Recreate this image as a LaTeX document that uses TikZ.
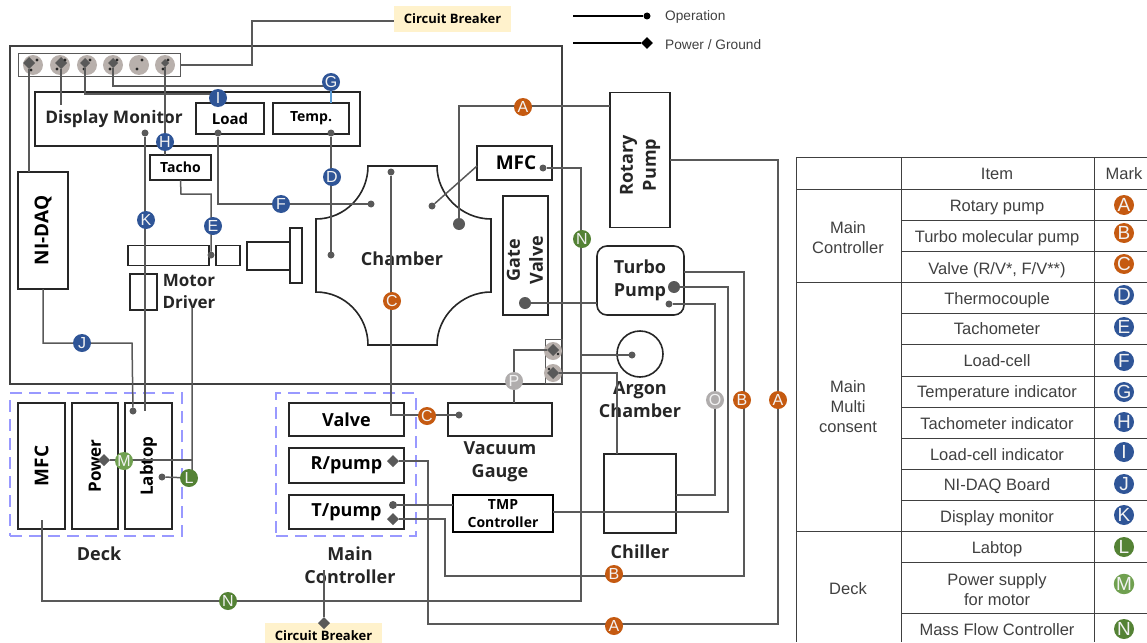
\documentclass[tikz,border=0pt]{standalone}
\usepackage{fontspec}
\setmainfont{Open Sans}
\newfontfamily\tablefont{Liberation Sans}
\usetikzlibrary{shapes.geometric, positioning}
\definecolor{Wire}{RGB}{89, 89, 89}
\definecolor{Frame}{RGB}{64, 64, 64}
\definecolor{Cream}{RGB}{255, 242, 204}
\definecolor{Naranja}{RGB}{197, 90, 17}
\definecolor{Azul}{RGB}{47, 85, 151}
\definecolor{Verde}{RGB}{84, 130, 53}
\definecolor{VerdeClaro}{RGB}{112, 160, 80}
\definecolor{Gris}{RGB}{176, 173, 173}
\definecolor{Socket}{RGB}{184, 176, 172}
\definecolor{Lila}{RGB}{153, 153, 255}
\definecolor{Celeste}{RGB}{91, 155, 213}
\definecolor{Texto}{RGB}{64, 64, 64}

\begin{document}
\begin{tikzpicture}[
        x=1pt, y=-1pt,
        box/.style={rectangle, draw=black!85, line width=1.6pt, inner sep=0pt, outer sep=0pt, align=center, font=\fontsize{18}{23}\selectfont\bfseries},
        lbl/.style={inner sep=0pt, align=center, font=\fontsize{18}{23}\selectfont\bfseries, text=black!85},
        dashbox/.style={rectangle, draw=Lila, line width=1.5pt, dash pattern=on 12pt off 7pt, inner sep=0pt},
        breaker/.style={rectangle, fill=Cream, inner sep=0pt, font=\fontsize{13}{15}\selectfont\bfseries},
        wire/.style={draw=Wire, line width=1.5pt},
        opdot/.style={circle, fill=Wire, inner sep=0pt, outer sep=0pt, minimum size=7pt},
        bigdot/.style={circle, fill=Wire, inner sep=0pt, outer sep=0pt, minimum size=12pt},
        pwrdia/.style={diamond, fill=Wire, inner sep=0pt, outer sep=0pt, minimum size=12pt},
        socket/.style={circle, fill=Socket, inner sep=0pt, minimum size=20pt},
        badge/.style={circle, inner sep=0pt, minimum size=18pt, text=white!90!gray, font=\tablefont\fontsize{16}{16}\selectfont},
        keymark/.style={badge, minimum size=20pt, font=\tablefont\fontsize{19}{19}\selectfont},
        tabmulti/.style={inner sep=0pt, align=center, text=Texto, font=\tablefont\fontsize{16.5}{20}\selectfont},
        tabtext/.style={tabmulti, text height=14pt, text depth=3pt},
        legtext/.style={inner sep=0pt, anchor=west, text=Texto, font=\tablefont\fontsize{13.7}{14}\selectfont},
        tabline/.style={draw=black!75, line width=1pt}
    ]
        \useasboundingbox (0,0) rectangle (1147,642);

        % Armario principal, regletas y cuadros de mando
        \node[box, draw=Frame, line width=2pt, minimum width=552pt, minimum height=338pt] (cabinet) at (286,215) {};
        \node[rectangle, draw=Wire, line width=1pt, minimum width=162pt, minimum height=22pt, inner sep=0pt] (strip) at (99,65) {};
        \node[socket] (sockA) at (33,65) {};
        \node[socket] (sockB) at (60,65) {};
        \node[socket] (sockC) at (87,65) {};
        \node[socket] (sockD) at (113,65) {};
        \node[socket] (sockE) at (139,65) {};
        \node[socket] (sockF) at (165,65) {};
        \node[rectangle, draw=Wire, line width=1pt, minimum width=17pt, minimum height=44pt, inner sep=0pt] (stripb) at (553.5,361) {};
        \node[socket, minimum size=18pt] (sockG) at (553,351) {};
        \node[socket, minimum size=18pt] (sockH) at (553,373) {};

        \node[box, minimum width=325pt, minimum height=54pt] (monitor) at (197.5,119) {};
        \node[lbl, font=\fontsize{17.3}{20}\selectfont\bfseries] (monitortext) at (114,119) {Display Monitor};
        \node[box, minimum width=68pt, minimum height=31pt, font=\fontsize{15}{17}\selectfont\bfseries] (load) at (230,118.5) {Load};
        \node[box, minimum width=76pt, minimum height=31pt, font=\fontsize{14}{17}\selectfont\bfseries] (temp) at (311,118.5) {Temp.};
        \node[box, minimum width=61pt, minimum height=25pt, font=\fontsize{14}{17}\selectfont\bfseries] (tacho) at (180.5,167.5) {Tacho};
        \node[box, minimum width=50pt, minimum height=117pt, font=\fontsize{19}{22}\selectfont\bfseries] (nidaq) at (43,230.5) {\rotatebox{90}{NI-DAQ}};

        % Motor y eje
        \node[box, minimum width=81pt, minimum height=20pt] (motorbar) at (168.5,255.5) {};
        \node[box, minimum width=24pt, minimum height=20pt] (coupler) at (228,255.5) {};
        \node[box, minimum width=43pt, minimum height=28pt] (shaft) at (268.5,256) {};
        \node[box, minimum width=12pt, minimum height=55pt] (flange) at (296,255.5) {};
        \node[box, minimum width=27pt, minimum height=36pt] (driver) at (143.5,292) {};
        \node[lbl, font=\fontsize{17}{22}\selectfont\bfseries] (drivertext) at (189,292) {Motor\\Driver};

        % Camara de vacio
        \draw[black!85, line width=1.6pt] (368,166) -- (437,166) .. controls (437,195) and (462,219) .. (491,219) -- (491,292) .. controls (462,292) and (437,316) .. (437,345) -- (368,345) .. controls (368,316) and (345,292) .. (316,292) -- (316,219) .. controls (345,219) and (368,195) .. (368,166) -- cycle;
        \node[lbl] (chamber) at (402,259) {Chamber};
        \node[box, minimum width=75pt, minimum height=34pt, font=\fontsize{19}{22}\selectfont\bfseries] (mfc) at (514.5,163) {\hspace*{3pt}MFC};
        \node[box, minimum width=45pt, minimum height=119pt] (gate) at (525.5,255.5) {};
        \node[lbl, rotate=90] (gatetext) at (525,260) {Gate\\Valve};

        % Bombas y camara de argon
        \node[box, minimum width=60pt, minimum height=135pt] (rotary) at (640,160) {};
        \node[lbl, rotate=90] (rotarytext) at (640,165) {Rotary\\Pump};
        \node[box, minimum width=87pt, minimum height=69pt, rounded corners=10pt] (turbo) at (640.5,280.5) {};
        \node[lbl] (turbotext) at (640,280) {Turbo\\Pump};
        \node[circle, draw=black!85, line width=1.6pt, minimum size=46pt, inner sep=0pt] (argon) at (640,354) {};
        \node[lbl] (argontext) at (640,399.5) {Argon\\Chamber};
        \node[box, minimum width=72pt, minimum height=79pt] (chiller) at (640,493.5) {};
        \node[lbl] (chillertext) at (640,552) {Chiller};

        % Deck y controlador principal
        \node[dashbox, minimum width=172pt, minimum height=143pt] (deckzone) at (96,464.5) {};
        \node[box, minimum width=47pt, minimum height=126pt, font=\fontsize{19}{22}\selectfont\bfseries] (deckmfc) at (41.5,466) {\rotatebox{90}{MFC}};
        \node[box, minimum width=46pt, minimum height=126pt, font=\fontsize{17}{20}\selectfont\bfseries] (power) at (95,466) {\rotatebox{90}{Power}};
        \node[box, minimum width=47pt, minimum height=126pt, font=\fontsize{17}{20}\selectfont\bfseries] (labtop) at (148.5,466) {\rotatebox{90}{Labtop}};
        \node[lbl] (decktext) at (99,554) {Deck};
        \node[dashbox, minimum width=140pt, minimum height=143pt] (ctrlzone) at (346,464.5) {};
        \node[box, minimum width=115pt, minimum height=33pt] (valve) at (346.5,419.5) {Valve};
        \node[box, minimum width=115pt, minimum height=35pt] (rpump) at (346.5,465.5) {R/pump};
        \node[box, minimum width=115pt, minimum height=34pt] (tpump) at (346.5,512) {T/pump};
        \node[lbl] (ctrltext) at (350,565.5) {Main\\Controller};
        \node[box, minimum width=104pt, minimum height=33pt] (gauge) at (500,419.5) {};
        \node[lbl] (gaugetext) at (500,461.5) {Vacuum\\Gauge};
        \node[box, draw=black, minimum width=100pt, minimum height=37pt, font=\fontsize{14}{18}\selectfont\bfseries] (tmp) at (503,513.5) {TMP\\Controller};

        % Interruptores
        \node[breaker, minimum width=117pt, minimum height=26pt] (cbtop) at (452.5,19) {Circuit Breaker};
        \node[breaker, minimum width=117pt, minimum height=26pt] (cbbot) at (323.5,636) {Circuit Breaker};

        % Puntos de conexion
        \node[pwrdia] (pinA) at (29,63) {};
        \node[pwrdia] (pinB) at (61,63) {};
        \node[pwrdia, minimum size=10pt] (pinC) at (85,63) {};
        \node[pwrdia, minimum size=10pt] (pinD) at (113,63) {};
        \node[pwrdia, minimum size=8pt] (pinF) at (165,63) {};
        \fill[black!85] (37,60) circle (1.6) (31,70) circle (1.6) (65,60) circle (1.6) (57,69) circle (1.6) (90,60) circle (1.6) (84,69) circle (1.6) (117,60) circle (1.6) (110,69) circle (1.6) (142,60) circle (1.6) (137,69) circle (1.6) (168,60) circle (1.6) (163,69) circle (1.6);
        \node[pwrdia] (pinG) at (553,350) {};
        \node[pwrdia] (pinH) at (553,373) {};
        \fill[black!85] (558,354) circle (1.3) (549,369) circle (1.3);
        \node[opdot] (dotdisp) at (145,133) {};
        \node[opdot] (dotload) at (218,133) {};
        \node[opdot] (dottemp) at (331,133) {};
        \node[opdot] (dotloadin) at (371,204) {};
        \node[opdot] (dottempin) at (331,255) {};
        \node[opdot] (dotmotor) at (211,255) {};
        \node[opdot] (dotvalve) at (391,172) {};
        \node[opdot] (dotmfcin) at (432,206) {};
        \node[bigdot] (dotrough) at (459,224) {};
        \node[opdot] (dotmfc) at (543,168) {};
        \node[bigdot] (dotgate) at (525,303) {};
        \node[bigdot] (dotturboa) at (674,287) {};
        \node[opdot] (dotturbob) at (669,304) {};
        \node[opdot] (dotargon) at (632,355) {};
        \node[opdot] (dotgauge) at (459,415) {};
        \node[opdot] (dotdaq) at (133,411) {};
        \node[opdot] (dotlab) at (162,477) {};
        \node[pwrdia] (diapower) at (104,460) {};
        \node[pwrdia] (diarpump) at (393,461) {};
        \node[opdot, minimum size=8pt] (dottpump) at (393,505) {};
        \node[pwrdia] (diatpump) at (393,519) {};
        \node[pwrdia] (diacb) at (324,623) {};
        \coordinate (endkey) at (145,411);
        \coordinate (enddeck) at (42,520);
        \coordinate (enddisp) at (61,105);
        \coordinate (endcb) at (324,570);
        \coordinate (enddriver) at (192,308);
        \coordinate (endgrid) at (192,460);

        % Alimentacion del armario
        \draw[wire] (cbtop.west |- 0,21) -| (252,65) -- (strip.east);
        \draw[wire] (pinA) -- (pinA |- nidaq.north);
        \draw[wire] (pinB) -- (enddisp);
        \draw[wire] (pinC) |- (218,94);
        \draw[wire] (pinD) |- (331,86);
        \draw[draw=Celeste, line width=1.8pt] (331,86) -- (temp.north -| 331,0);
        \draw[wire] (pinF) -- (pinF |- tacho.north);
        \draw[wire] (dotdisp) -- (endkey);
        \draw[wire] (dotload) |- (dotloadin);
        \draw[wire] (dottemp) -- (dottempin);
        \draw[wire] (tacho.south) -- (181,194) -| (dotmotor);
        \draw[wire] (nidaq.south) |- (132,343) -- (dotdaq);

        % Deck
        \draw[wire] (enddriver) -- (192,478) -- (dotlab);
        \draw[wire] (diapower) -- (endgrid);
        \draw[wire] (enddeck) |- (581,601) |- (dotmfc);
        \draw[wire] (dotargon) -- (581,355);
        \draw[wire] (endcb) -- (diacb);

        % Bombas
        \draw[wire] (rotary.west |- 0,106) -- (459,106) -- (dotrough);
        \draw[wire] (670,160) -| (778,624) -| (428,461) -- (diarpump);
        \draw[wire] (684,272) -| (744,576) -| (445,519) -- (diatpump);
        \draw[wire] (dotturboa) -| (728,512) -- (tmp.east |- 0,512);
        \draw[wire] (dotturbob) -| (715,495) -- (chiller.east |- 0,495);
        \draw[wire] (dotgate) -- (turbo.west |- 0,303);
        \draw[wire] (dottpump) -- (tmp.west |- 0,505);
        \draw[wire] (mfc.west |- 0,166) -- (dotmfcin);
        \draw[wire] (dotvalve) |- (dotgauge);
        \draw[wire] (pinG) -| (gauge.north -| 514,0);
        \draw[wire] (pinH) -| (chiller.north -| 617,0);

        % Marcas sobre las lineas
        \node[badge, fill=Azul] (markG) at (331,82) {G};
        \node[badge, fill=Azul] (markI) at (218,98) {I};
        \node[badge, fill=Azul] (markH) at (165,142) {H};
        \node[badge, fill=Azul] (markD) at (332,177) {D};
        \node[badge, fill=Azul] (markF) at (281,204) {F};
        \node[badge, fill=Azul] (markE) at (213,226) {E};
        \node[badge, fill=Azul] (markK) at (146,220) {K};
        \node[badge, fill=Azul] (markJ) at (82,343) {J};
        \node[badge, fill=VerdeClaro] (markM) at (124,461) {M};
        \node[badge, fill=Verde] (markL) at (189,478) {L};
        \node[badge, fill=Verde] (markNa) at (228,601) {N};
        \node[badge, fill=Verde] (markNb) at (582,239) {N};
        \node[badge, fill=Naranja] (markAa) at (523,107) {A};
        \node[badge, fill=Naranja] (markAb) at (778,400) {A};
        \node[badge, fill=Naranja] (markAc) at (614,626) {A};
        \node[badge, fill=Naranja] (markBa) at (742,400) {B};
        \node[badge, fill=Naranja] (markBb) at (614,574) {B};
        \node[badge, fill=Naranja] (markCa) at (392,301) {C};
        \node[badge, fill=Naranja] (markCb) at (427,416) {C};
        \node[badge, fill=Gris] (markP) at (514,381) {P};
        \node[badge, fill=Gris] (markO) at (715,400) {O};

        % Leyenda
        \coordinate (legopstart) at (573,16);
        \coordinate (legpwstart) at (573,43);
        \node[circle, fill=black, inner sep=0pt, minimum size=7pt] (legop) at (647,16) {};
        \node[diamond, fill=black, inner sep=0pt, minimum size=12pt] (legpw) at (647,43) {};
        \draw[black, line width=1.4pt] (legopstart) -- (legop);
        \draw[black, line width=1.4pt] (legpwstart) -- (legpw);
        \node[legtext] (legoptext) at (665,17) {Operation};
        \node[legtext] (legpwtext) at (665,45) {Power / Ground};

        % Tabla de marcas
        \draw[tabline] (796,157) -- (1147,157) (796,189) -- (1147,189) (796,282) -- (1147,282) (796,531) -- (1147,531);
        \draw[tabline] (901,220) -- (1147,220) (901,251) -- (1147,251) (901,313) -- (1147,313) (901,344) -- (1147,344) (901,376) -- (1147,376) (901,407) -- (1147,407) (901,438) -- (1147,438) (901,469) -- (1147,469) (901,500) -- (1147,500) (901,562) -- (1147,562) (901,613) -- (1147,613);
        \draw[tabline] (796,157) -- (796,642) (901,157) -- (901,642) (1094.5,157) -- (1094.5,642);
        \node[tabtext] (headitem) at (997,174) {Item};
        \node[tabtext] (headmark) at (1124,174) {Mark};
        \node[tabmulti] (groupctrl) at (848,237.5) {Main\\Controller};
        \node[tabmulti] (groupmulti) at (848,407) {Main\\Multi\\consent};
        \node[tabtext] (groupdeck) at (848,589) {Deck};
        \node[tabtext] (rowa) at (997,206) {Rotary pump};
        \node[tabtext] (rowb) at (997,237) {Turbo molecular pump};
        \node[tabtext] (rowc) at (997,269) {Valve (R/V*, F/V**)};
        \node[tabtext] (rowd) at (997,299) {Thermocouple};
        \node[tabtext] (rowe) at (997,329) {Tachometer};
        \node[tabtext] (rowf) at (997,361) {Load-cell};
        \node[tabtext] (rowg) at (997,392) {Temperature indicator};
        \node[tabtext] (rowh) at (997,424) {Tachometer indicator};
        \node[tabtext] (rowi) at (997,455) {Load-cell indicator};
        \node[tabtext] (rowj) at (997,485) {NI-DAQ Board};
        \node[tabtext] (rowk) at (997,517) {Display monitor};
        \node[tabtext] (rowl) at (997,548) {Labtop};
        \node[tabmulti] (rowm) at (997,590) {Power supply\\for motor};
        \node[tabtext] (rown) at (997,630) {Mass Flow Controller};
        \node[keymark, fill=Naranja] (keya) at (1124,205) {A};
        \node[keymark, fill=Naranja] (keyb) at (1124,233) {B};
        \node[keymark, fill=Naranja] (keyc) at (1124,264) {C};
        \node[keymark, fill=Azul] (keyd) at (1124,295) {D};
        \node[keymark, fill=Azul] (keye) at (1124,327) {E};
        \node[keymark, fill=Azul] (keyf) at (1124,361) {F};
        \node[keymark, fill=Azul] (keyg) at (1124,392) {G};
        \node[keymark, fill=Azul] (keyh) at (1124,422) {H};
        \node[keymark, fill=Azul] (keyi) at (1124,452) {I};
        \node[keymark, fill=Azul] (keyj) at (1124,484) {J};
        \node[keymark, fill=Azul] (keyk) at (1124,515) {K};
        \node[keymark, fill=Verde] (keyl) at (1124,547) {L};
        \node[keymark, fill=VerdeClaro] (keym) at (1124,584) {M};
        \node[keymark, fill=Verde] (keyn) at (1124,629) {N};
    \end{tikzpicture}
\end{document}
